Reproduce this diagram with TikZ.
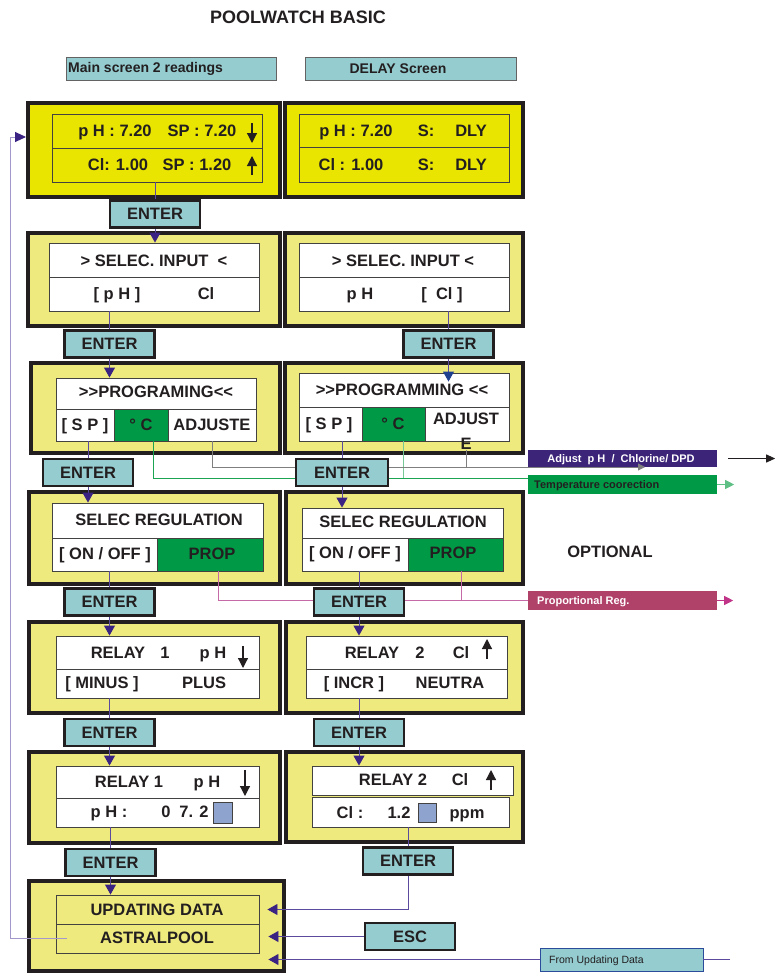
\documentclass[tikz,border=0pt]{standalone}
\usepackage{fontspec}
\setmainfont{Liberation Sans}
\usetikzlibrary{arrows.meta,positioning,calc,fit}
\pgfdeclarelayer{keys}
\pgfsetlayers{main,keys}

\definecolor{ink}{HTML}{231F20}
\definecolor{lcdyel}{HTML}{E9E500}
\definecolor{paleyel}{HTML}{EEEA7E}
\definecolor{keyteal}{HTML}{94CCD0}
\definecolor{selgreen}{HTML}{009A46}
\definecolor{arrpurple}{HTML}{3A2383}
\definecolor{linepurple}{HTML}{5B4A9E}
\definecolor{fbpurple}{HTML}{A497CC}
\definecolor{progblue}{HTML}{1F3F8F}
\definecolor{adjviolet}{HTML}{3C2579}
\definecolor{propred}{HTML}{B0426A}
\definecolor{proppink}{HTML}{C46AA6}
\definecolor{tempgreen}{HTML}{1BA552}
\definecolor{greyline}{HTML}{7F7F7F}
\definecolor{sqblue}{HTML}{8FA3CF}
\definecolor{fromblue}{HTML}{2B4C9B}

\tikzset{
  panel/.style={draw=ink, line width=4pt, fill=paleyel, inner sep=0pt},
  lcd/.style={draw=ink!85, line width=0.9pt, fill=white, inner sep=0pt},
  lcdtxt/.style={font=\bfseries\fontsize{16.5}{18}\selectfont, text=ink,
    inner sep=0pt, text height=11.8pt, text depth=0pt},
  keybox/.style={draw=ink, line width=2.2pt, fill=keyteal, minimum width=90pt,
    minimum height=27pt, inner sep=0pt, font=\bfseries\fontsize{16.5}{18}\selectfont, text=ink},
  tagbox/.style={draw=ink!70, line width=0.8pt, fill=keyteal, inner sep=0pt},
  tagtxt/.style={font=\bfseries\fontsize{14}{16}\selectfont, text=ink, inner sep=0pt},
  notebox/.style={inner sep=0pt},
  notetxt/.style={inner sep=0pt, font=\bfseries\fontsize{11}{13}\selectfont,
    text height=8pt, text depth=0pt},
  link/.style={draw=linepurple, line width=0.9pt},
  arr/.style={link, -{Triangle[length=10pt,width=11pt,color=arrpurple]}},
  glyph/.style={draw=ink, line width=1.2pt, -{Triangle[length=10pt,width=10pt]}},
}

\begin{document}
\begin{tikzpicture}[x=1pt,y=-1pt]
  \useasboundingbox (0,0) rectangle (775,974);

  % titulo y columnas
  \node[font=\bfseries\fontsize{18}{20}\selectfont, text=ink] (title) at (298,17) {POOLWATCH BASIC};
  \node[tagbox, fit={(66,57) (276,80)}] (tagL) {};
  \node[tagtxt, anchor=west] (tagLtxt) at (68,68.5) {Main screen 2 readings};
  \node[tagbox, fit={(305,57) (516,80)}] (tagR) {};
  \node[tagtxt] (tagRtxt) at (398,68.5) {DELAY Screen};

  % pantallas
  \node[panel, fill=lcdyel, fit={(28,103) (280,197)}] (p1L) {};
  \node[panel, fill=lcdyel, fit={(285,103) (523,197)}] (p1R) {};
  \node[panel, fit={(28,233) (280,326)}] (p2L) {};
  \node[panel, fit={(285,233) (523,326)}] (p2R) {};
  \node[panel, fit={(31,363) (280,453)}] (p3L) {};
  \node[panel, fit={(285,363) (523,453)}] (p3R) {};
  \node[panel, fit={(29,492) (280,584)}] (p4L) {};
  \node[panel, fit={(286,492) (523,584)}] (p4R) {};
  \node[panel, fit={(29,622) (280,713)}] (p5L) {};
  \node[panel, fit={(286,622) (523,713)}] (p5R) {};
  \node[panel, fit={(29,752) (280,843)}] (p6L) {};
  \node[panel, fit={(286,752) (523,842)}] (p6R) {};
  \node[panel, fit={(29,881) (284,971)}] (p7) {};

  \node[lcd, fill=lcdyel, fit={(52,114) (262,148)}] (r1Lt) {};
  \node[lcd, fill=lcdyel, fit={(52,148) (262,182)}] (r1Lb) {};
  \node[lcd, fill=lcdyel, fit={(299,114) (509,147)}] (r1Rt) {};
  \node[lcd, fill=lcdyel, fit={(299,147) (509,182)}] (r1Rb) {};

  \node[lcd, fit={(49,243) (259,277)}] (r2Lt) {};
  \node[lcd, fit={(49,277) (259,311)}] (r2Lb) {};
  \node[lcd, fit={(299,243) (509,277)}] (r2Rt) {};
  \node[lcd, fit={(299,277) (509,311)}] (r2Rb) {};

  \node[lcd, fit={(56,378) (256,409)}] (r3Lt) {};
  \node[lcd, fit={(56,409) (114,441)}] (r3La) {};
  \node[lcd, fill=selgreen, fit={(114,409) (168,441)}] (r3Lb) {};
  \node[lcd, fit={(168,409) (256,441)}] (r3Lc) {};
  \node[lcd, fit={(299,373) (509,407)}] (r3Rt) {};
  \node[lcd, fit={(299,407) (362,441)}] (r3Ra) {};
  \node[lcd, fill=selgreen, fit={(362,407) (425,441)}] (r3Rb) {};
  \node[lcd, fit={(425,407) (509,441)}] (r3Rc) {};

  \node[lcd, fit={(52,503) (263,538)}] (r4Lt) {};
  \node[lcd, fit={(52,538) (157,571)}] (r4La) {};
  \node[lcd, fill=selgreen, fit={(157,538) (263,571)}] (r4Lb) {};
  \node[lcd, fit={(302,508) (503,538)}] (r4Rt) {};
  \node[lcd, fit={(302,538) (408,571)}] (r4Ra) {};
  \node[lcd, fill=selgreen, fit={(408,538) (503,571)}] (r4Rb) {};

  \node[lcd, fit={(56,636) (259,669)}] (r5Lt) {};
  \node[lcd, fit={(56,669) (259,698)}] (r5Lb) {};
  \node[lcd, fit={(306,636) (507,669)}] (r5Rt) {};
  \node[lcd, fit={(306,669) (507,698)}] (r5Rb) {};

  \node[lcd, fit={(56,766) (259,798)}] (r6Lt) {};
  \node[lcd, fit={(56,798) (259,827)}] (r6Lb) {};
  \node[lcd, fit={(312,766) (513,795)}] (r6Rt) {};
  \node[lcd, fit={(312,797) (509,827)}] (r6Rb) {};

  \node[lcd, fill=paleyel, fit={(56,895) (259,924)}] (r7t) {};
  \node[lcd, fill=paleyel, fit={(56,924) (259,953)}] (r7b) {};

  % textos de las pantallas
  \node[lcdtxt] (aPH) at (115,131) {p H : 7.20};
  \node[lcdtxt] (aSP) at (202,131) {SP : 7.20};
  \node[lcdtxt] (aCl) at (118,165) {Cl: 1.00};
  \node[lcdtxt] (aSP2) at (197,165) {SP : 1.20};
  \draw[glyph] (252,123) -- (252,143);
  \draw[glyph] (252,175) -- (252,156);
  \node[lcdtxt] (bPH) at (356,131) {p H : 7.20};
  \node[lcdtxt] (bS1) at (426,131) {S:};
  \node[lcdtxt] (bD1) at (471,131) {DLY};
  \node[lcdtxt] (bCl) at (351,165) {Cl : 1.00};
  \node[lcdtxt] (bS2) at (426,165) {S:};
  \node[lcdtxt] (bD2) at (471,165) {DLY};

  \node[lcdtxt] (cSel) at (154,261) {{>} SELEC. INPUT\ \ {<}};
  \node[lcdtxt] (cPH) at (117,294) {[ p H ]};
  \node[lcdtxt] (cCl) at (206,294) {Cl};
  \node[lcdtxt] (dSel) at (403,261) {{>} SELEC. INPUT {<}};
  \node[lcdtxt] (dPH) at (360,294) {p H};
  \node[lcdtxt] (dCl) at (442,294) {[\ \ Cl ]};

  \node[lcdtxt] (eProg) at (156,392) {{>}{>}PROGRAMING{<}{<}};
  \node[lcdtxt] (eSP) at (85,425) {[ S P ]};
  \node[lcdtxt] (eC) at (141,425) {° C};
  \node[lcdtxt] (eAdj) at (212,425) {ADJUSTE};
  \node[lcdtxt] (fProg) at (402,390) {{>}{>}PROGRAMMING {<}{<}};
  \node[lcdtxt] (fSP) at (329,424) {[ S P ]};
  \node[lcdtxt] (fC) at (393,424) {° C};
  \node[lcdtxt] (fAdj) at (466,419) {ADJUST};
  \node[lcdtxt] (tE) at (466,444) {E};

  \node[lcdtxt] (gSel) at (159,520) {SELEC REGULATION};
  \node[lcdtxt] (gOn) at (105,554) {[ ON / OFF ]};
  \node[lcdtxt] (gProp) at (212,554) {PROP};
  \node[lcdtxt] (hSel) at (403,522) {SELEC REGULATION};
  \node[lcdtxt] (hOn) at (355,553) {[ ON / OFF ]};
  \node[lcdtxt] (hProp) at (453,553) {PROP};

  \node[lcdtxt] (iRel) at (118,653) {RELAY};
  \node[lcdtxt] (iNum) at (165,653) {1};
  \node[lcdtxt] (iPH) at (213,653) {p H};
  \draw[glyph] (243,646) -- (243,668);
  \node[lcdtxt] (iMin) at (102,683) {[ MINUS ]};
  \node[lcdtxt] (iPlus) at (204,683) {PLUS};
  \node[lcdtxt] (jRel) at (372,653) {RELAY};
  \node[lcdtxt] (jNum) at (420,653) {2};
  \node[lcdtxt] (jCl) at (461,653) {Cl};
  \draw[glyph] (487,659) -- (487,639);
  \node[lcdtxt] (jInc) at (354,683) {[ INCR ]};
  \node[lcdtxt] (jNeu) at (450,683) {NEUTRA};

  \node[lcdtxt] (kRel) at (129,782) {RELAY 1};
  \node[lcdtxt] (kPH) at (207,782) {p H};
  \draw[glyph] (245,770) -- (245,796);
  \node[lcdtxt] (kPH2) at (109,812) {p H :};
  \node[lcdtxt] (kZero) at (166,812) {0};
  \node[lcdtxt] (kVal) at (194,812) {7. 2};
  \node[draw=ink!85, line width=0.8pt, fill=sqblue, inner sep=0pt, fit={(213,802) (232,823)}] (sq1) {};
  \node[lcdtxt] (lRel) at (393,780) {RELAY 2};
  \node[lcdtxt] (lCl) at (460,780) {Cl};
  \draw[glyph] (491,790) -- (491,770);
  \node[lcdtxt] (lCl2) at (350,813) {Cl :};
  \node[lcdtxt] (lVal) at (399,813) {1.2};
  \node[draw=ink!85, line width=0.8pt, fill=sqblue, inner sep=0pt, fit={(418,803) (436,822)}] (sq2) {};
  \node[lcdtxt] (lUnit) at (467,813) {ppm};

  \node[lcdtxt] (uTxt) at (157,910) {UPDATING DATA};
  \node[lcdtxt] (apTxt) at (157,938) {ASTRALPOOL};

  % teclas
  \begin{pgfonlayer}{keys}
    \node[keybox] (e1) at (155,214) {ENTER};
    \node[keybox] (e2L) at (109.5,344) {ENTER};
    \node[keybox] (e2R) at (448.5,344) {ENTER};
    \node[keybox] (e3L) at (88,472.5) {ENTER};
    \node[keybox, minimum width=92pt] (e3R) at (342,472.5) {ENTER};
    \node[keybox] (e4L) at (109.5,602) {ENTER};
    \node[keybox] (e4R) at (359,602) {ENTER};
    \node[keybox] (e5L) at (109.5,732.5) {ENTER};
    \node[keybox] (e5R) at (359,732.5) {ENTER};
    \node[keybox] (e6L) at (110.5,862.5) {ENTER};
    \node[keybox] (e6R) at (408,861) {ENTER};
    \node[keybox] (esc) at (410,936.5) {ESC};
  \end{pgfonlayer}

  % opciones
  \node[notebox, fill=adjviolet, fit={(528,450) (717,467)}] (adjBox) {};
  \node[notetxt, text=white] (adjTxt) at (621,458.5) {Adjust \ p H \ / \ Chlorine/ DPD};
  \node[notebox, fill=selgreen, fit={(528,475) (717,494)}] (tempBox) {};
  \node[notetxt, text=ink, anchor=west] (tempTxt) at (534,484.5) {Temperature coorection};
  \node[notebox, fill=propred, fit={(528,591) (717,610)}] (propBox) {};
  \node[notetxt, text=white, anchor=west] (propTxt) at (537,600.5) {Proportional Reg.};
  \node[font=\bfseries\fontsize{16.5}{18}\selectfont, text=ink] (opt) at (610,552) {OPTIONAL};
  \node[tagbox, draw=fromblue, fit={(540,948) (703,971)}] (fromUpd) {};
  \node[inner sep=0pt, anchor=west, font=\fontsize{10.5}{12}\selectfont, text=ink,
    text height=7.5pt, text depth=0pt] (fromTxt) at (549,959.5) {From Updating Data};

  % flujo principal
  \draw[link] (r1Lb.south -| e1) -- (e1.north);
  \draw[arr] (e1.south) -- (r2Lt.north -| e1);
  \draw[link] (r2Lb.south -| e2L) -- (e2L.north);
  \draw[arr] (e2L.south) -- (r3Lt.north -| e2L);
  \draw[link] (r2Rb.south -| e2R) -- (e2R.north);
  \draw[link, -{Triangle[length=10pt,width=11pt,color=progblue]}] (e2R.south) -- ($(r3Rt.north -| e2R)+(0,9)$);
  \draw[link] (r3La.south -| e3L) -- (e3L.north);
  \draw[arr] (e3L.south) -- (r4Lt.north -| e3L);
  \draw[link] (r3Ra.south -| e3R) -- (e3R.north);
  \draw[arr] (e3R.south) -- (r4Rt.north -| e3R);
  \draw[link] (r4La.south -| e4L) -- (e4L.north);
  \draw[arr] (e4L.south) -- (r5Lt.north -| e4L);
  \draw[link] (r4Ra.south -| e4R) -- (e4R.north);
  \draw[arr] (e4R.south) -- (r5Rt.north -| e4R);
  \draw[link] (r5Lb.south -| e5L) -- (e5L.north);
  \draw[arr] (e5L.south) -- (r6Lt.north -| e5L);
  \draw[link] (r5Rb.south -| e5R) -- (e5R.north);
  \draw[arr] (e5R.south) -- (r6Rt.north -| e5R);
  \draw[link] (r6Lb.south -| e6L) -- (e6L.north);
  \draw[arr] (e6L.south) -- (r7t.north -| e6L);
  \draw[link] (r6Rb.south -| e6R) -- (e6R.north);

  % entradas a UPDATING DATA
  \coordinate (inUpd) at ($(r7t.east)+(8,0)$);
  \coordinate (inEsc) at ($(r7b.east)+(9,0)$);
  \coordinate (fromEnd) at (730,959.5);
  \draw[arr] (e6R.south) |- (inUpd);
  \draw[arr] (esc.west) -- (esc.west -| inEsc);
  \draw[link] (fromEnd) -- (fromUpd.east);
  \draw[arr] (fromUpd.west) -- (fromUpd.west -| inEsc);

  % retorno a la pantalla principal
  \coordinate (fbStart) at ($(r7b.west)+(11,0)$);
  \coordinate (fbTip) at ($(p1L.north west)+(0,36)$);
  \coordinate (fbRail) at (10,0);
  \draw[fbpurple, line width=0.9pt, -{Triangle[length=11pt,width=10pt,color=arrpurple]}]
    (fbStart) -| (fbRail |- fbTip) -- (fbTip);

  % ramas opcionales
  \coordinate (grnY) at (0,478);
  \coordinate (greyY) at (0,467);
  \coordinate (cL) at ($(r3Lb.south)+(12,0)$);
  \coordinate (cR) at ($(r3Rb.south)+(9.5,0)$);
  \draw[tempgreen, line width=0.9pt] (cL) |- (tempBox.west |- grnY);
  \draw[tempgreen!60, line width=0.9pt] (cR) -- (cR |- grnY);
  \coordinate (tempOut) at ($(tempBox.east)+(17,0)$);
  \draw[tempgreen!70, line width=0.9pt, -{Triangle[length=9pt,width=9pt]}] (tempBox.east) -- (tempOut);

  \coordinate (greyEnd) at (645,467);
  \draw[greyline, line width=0.9pt, -{Triangle[length=7pt,width=7pt]}] (r3Lc.south) |- (greyEnd);
  \draw[greyline, line width=0.9pt] (tE.south) -- (tE.south |- greyY);
  \coordinate (adjOut1) at ($(adjBox.east)+(11,0)$);
  \coordinate (adjOut2) at ($(adjBox.east)+(58,0)$);
  \draw[ink, line width=0.9pt, -{Triangle[length=9pt,width=8pt]}] (adjOut1) -- (adjOut2);

  \coordinate (pkL) at ($(r4Lb.south)+(8,0)$);
  \coordinate (pkR) at ($(r4Rb.south)+(5.5,0)$);
  \draw[proppink, line width=0.9pt] (pkL) |- (propBox.west);
  \draw[proppink, line width=0.9pt] (pkR) -- (pkR |- propBox.west);
  \coordinate (propOut) at ($(propBox.east)+(16,0)$);
  \draw[propred!80!magenta, line width=0.9pt, -{Triangle[length=9pt,width=9pt]}] (propBox.east) -- (propOut);
\end{tikzpicture}
\end{document}
